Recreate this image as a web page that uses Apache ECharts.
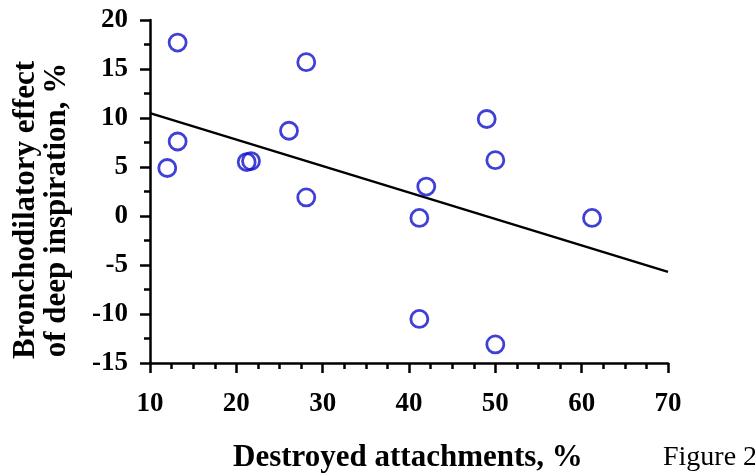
<!DOCTYPE html>
<html>
<head>
<meta charset="utf-8">
<script src="https://cdn.jsdelivr.net/npm/echarts@6/dist/echarts.min.js"></script>
<style>html,body{margin:0;padding:0;background:#fff}#c{width:755px;height:474px}</style>
</head>
<body>
<div id="c"></div>
<script>
var destroyed = [13.2, 13.2, 12.0, 21.2, 21.7, 26.1, 28.1, 28.1, 41.2, 42.0, 41.2, 49.0, 50.0, 50.0, 61.2];
var effect    = [17.7, 7.6, 4.9, 5.5, 5.6, 8.7, 15.7, 1.9, -0.2, 3.0, -10.5, 9.9, 5.7, -13.1, -0.2];
var fitX = [10, 70];
var fitY = [10.5, -5.7];
var xLabel = 'Destroyed attachments, %';
var yLabel = ['Bronchodilatory effect', 'of deep inspiration, %'];
var figLabel = 'Figure 2';

var pts = destroyed.map(function (x, i) { return [x, effect[i]]; });
var fit = fitX.map(function (x, i) { return [x, fitY[i]]; });
var font = '"Liberation Serif", "Times New Roman", serif';

var chart = echarts.init(document.getElementById('c'));
chart.setOption({
  animation: false,
  backgroundColor: '#fff',
  grid: { left: 150, right: 87, top: 20, bottom: 111, containLabel: false },
  xAxis: {
    type: 'value', min: 10, max: 70, interval: 10,
    axisLine: { onZero: false, lineStyle: { color: '#000', width: 2.5 } },
    axisTick: { show: true, inside: false, length: 10, lineStyle: { color: '#000', width: 2.5 } },
    minorTick: { show: true, splitNumber: 4, length: 6, lineStyle: { color: '#000', width: 2.5 } },
    splitLine: { show: false },
    axisLabel: { color: '#000', fontFamily: font, fontWeight: 'bold', fontSize: 27, margin: 28 }
  },
  yAxis: {
    type: 'value', min: -15, max: 20, interval: 5,
    axisLine: { show: true, onZero: false, lineStyle: { color: '#000', width: 2.5 } },
    axisTick: { show: true, inside: false, length: 10, lineStyle: { color: '#000', width: 2.5 } },
    minorTick: { show: true, splitNumber: 2, length: 6, lineStyle: { color: '#000', width: 2.5 } },
    splitLine: { show: false },
    axisLabel: { color: '#000', fontFamily: font, fontWeight: 'bold', fontSize: 27, margin: 22 }
  },
  graphic: [
    { type: 'text', left: 233, top: 442, style: { text: xLabel, fill: '#000', font: 'bold 31px ' + font } },
    { type: 'text', left: 663, top: 444, style: { text: figLabel, fill: '#000', font: '28px ' + font } },
    { type: 'text', x: 41, y: 210, rotation: Math.PI / 2,
      style: { text: yLabel.join('\n'), fill: '#000', font: 'bold 31px ' + font,
               align: 'center', verticalAlign: 'middle', lineHeight: 31 } }
  ],
  series: [
    { type: 'line', data: fit, symbol: 'none', lineStyle: { color: '#000', width: 2.5 }, z: 1 },
    { type: 'scatter', data: pts, symbol: 'circle', symbolSize: 17,
      itemStyle: { color: 'rgba(0,0,0,0)', borderColor: '#1010cc', borderWidth: 2.8 }, z: 2 }
  ]
});
</script>
</body>
</html>
